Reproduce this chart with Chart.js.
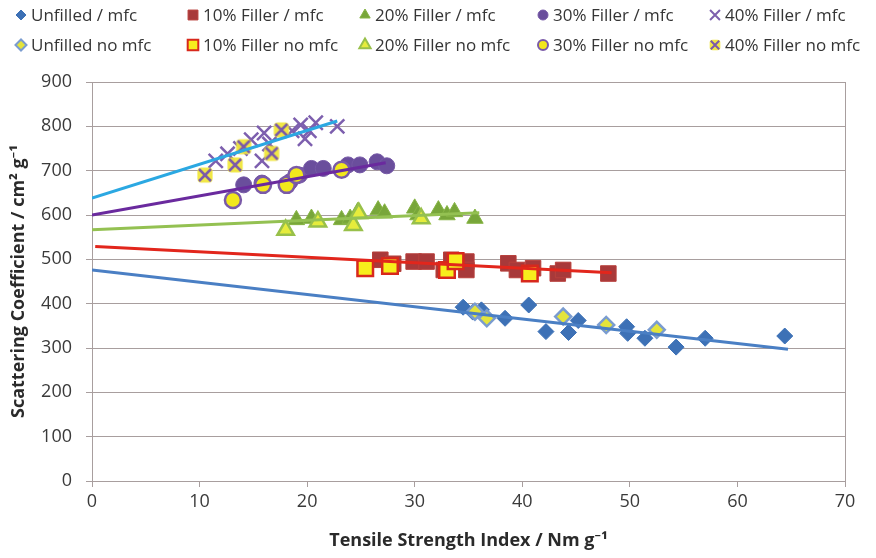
<!DOCTYPE html>
<html>
<head>
<meta charset="utf-8">
<script src="https://cdn.jsdelivr.net/npm/chart.js@4/dist/chart.umd.min.js"></script>
<style>
html, body { margin: 0; padding: 0; background: #fff; }
#wrap { width: 876px; height: 558px; }
</style>
</head>
<body>
<div id="wrap"><canvas id="scatter" width="876" height="558"></canvas></div>
<script>
"use strict";

// 測定値 [引張強さ指数, 散乱係数]
const unfilledMfc = [[34.5,392],[35.4,381],[36.2,386],[38.4,367],[40.6,397],[42.2,337],[44.3,335],[45.2,362],[49.7,348],[49.8,333],[51.4,322],[54.3,302],[57.0,322],[64.4,327]];
const unfilledNoMfc = [[35.6,382],[36.7,367],[43.8,371],[47.8,352],[52.5,341]];
const filler10Mfc = [[26.8,499],[28.0,490],[29.9,495],[31.1,495],[32.7,476],[33.4,499],[34.8,495],[34.8,476],[38.7,491],[39.5,476],[41.0,480],[43.3,468],[43.8,476],[48.0,468]];
const filler10NoMfc = [[25.4,480],[27.7,485],[33.0,476],[33.8,496],[40.7,468]];
const filler20Mfc = [[19.0,589],[20.4,592],[23.2,589],[24.0,592],[24.7,607],[26.6,611],[27.2,604],[30.0,615],[30.3,600],[32.2,611],[33.0,600],[33.7,607],[35.6,592]];
const filler20NoMfc = [[18.0,566],[21.0,585],[24.3,577],[24.8,604],[30.6,592]];
const filler30Mfc = [[14.1,668],[15.8,672],[18.4,675],[19.3,690],[20.4,705],[21.5,705],[23.8,713],[24.9,713],[26.5,720],[27.4,711]];
const filler30NoMfc = [[13.1,634],[15.9,668],[18.1,668],[19.0,690],[23.2,702]];
const filler40Mfc = [[11.5,722],[12.6,738],[13.8,750],[14.8,770],[16.0,785],[15.8,722],[16.5,760],[18.6,790],[19.4,803],[19.8,772],[20.2,790],[20.8,808],[22.8,800]];
const filler40NoMfc = [[10.5,690],[13.3,713],[14.1,754],[16.7,739],[17.6,792]];

// 近似直線の両端
const trendUnfilled = [[0,476],[64.7,297]];
const trend10 = [[0.3,529],[48.3,470]];
const trend20 = [[0,567],[36.0,605]];
const trend30 = [[0,600],[27.3,718]];
const trend40 = [[0,638],[22.8,812]];

// 軸目盛
const xTicks = [0, 10, 20, 30, 40, 50, 60, 70];
const yTicks = [0, 100, 200, 300, 400, 500, 600, 700, 800, 900];

const FONT = "'Open Sans', 'Noto Sans', sans-serif";

const toXY = arr => arr.map(p => ({ x: p[0], y: p[1] }));

// 黄色地に×印のマーカー
function yellowCross(size, line) {
    const c = document.createElement("canvas");
    c.width = size;
    c.height = size;
    const g = c.getContext("2d");
    g.fillStyle = "rgba(240,230,60,0.95)";
    const m = size * 0.12;
    g.beginPath();
    g.roundRect(m, m, size - 2 * m, size - 2 * m, size * 0.2);
    g.fill();
    g.strokeStyle = "#7b5aa8";
    g.lineWidth = line;
    const a = size * 0.2, b = size * 0.8;
    g.beginPath();
    g.moveTo(a, a); g.lineTo(b, b);
    g.moveTo(b, a); g.lineTo(a, b);
    g.stroke();
    return c;
}
const crossImg = yellowCross(20, 2.5);
const crossImgSmall = yellowCross(14, 2);

// 系列の見た目
const series = [
    { label: "Unfilled / mfc",     data: unfilledMfc,   style: "rectRot",  r: 8,   fill: "#3d71b6", border: "#3d71b6", bw: 1,   lr: 5 },
    { label: "10% Filler / mfc",   data: filler10Mfc,   style: "rect",     r: 11,  fill: "#a8393a", border: "#b8403c", bw: 1,   lr: 7 },
    { label: "20% Filler / mfc",   data: filler20Mfc,   style: "triangle", r: 9.5, fill: "#78a63a", border: "#86b444", bw: 1,   lr: 6 },
    { label: "30% Filler / mfc",   data: filler30Mfc,   style: "circle",   r: 8,   fill: "#6a4e9c", border: "#7558a6", bw: 1,   lr: 5 },
    { label: "40% Filler / mfc",   data: filler40Mfc,   style: "crossRot", r: 10,  fill: "#7d5fae", border: "#7d5fae", bw: 2.5, lr: 7 },
    { label: "Unfilled no mfc",    data: unfilledNoMfc, style: "rectRot",  r: 8,   fill: "#e4e43c", border: "#7a9cd0", bw: 2.5, lr: 5.5 },
    { label: "10% Filler no mfc",  data: filler10NoMfc, style: "rect",     r: 11,  fill: "#f7ee1c", border: "#d8281c", bw: 2.5, lr: 7.5 },
    { label: "20% Filler no mfc",  data: filler20NoMfc, style: "triangle", r: 9.5, fill: "#e6ec3c", border: "#98c04a", bw: 2.5, lr: 6.5 },
    { label: "30% Filler no mfc",  data: filler30NoMfc, style: "circle",   r: 8,   fill: "#f2e81c", border: "#7a5aa8", bw: 2.5, lr: 5 },
    { label: "40% Filler no mfc",  data: filler40NoMfc, style: crossImg,   r: 10,  fill: "#7d5fae", border: "#7d5fae", bw: 2.5, lr: 7, legendImg: crossImgSmall }
];

const trends = [
    { data: trendUnfilled, color: "#4a7fc4" },
    { data: trend10,       color: "#e2261c" },
    { data: trend20,       color: "#94c152" },
    { data: trend30,       color: "#6a2a9e" },
    { data: trend40,       color: "#2ba8e2" }
];

const datasets = [];
trends.forEach(t => {
    datasets.push({
        data: toXY(t.data),
        showLine: true,
        borderColor: t.color,
        borderWidth: 3,
        pointRadius: 0,
        order: 0
    });
});
series.forEach((s, i) => {
    datasets.push({
        label: s.label,
        data: toXY(s.data),
        pointStyle: s.style,
        pointRadius: s.r,
        pointHoverRadius: s.r,
        backgroundColor: s.fill,
        borderColor: s.border,
        pointBorderWidth: s.bw,
        showLine: false,
        order: 20 - i
    });
});

// 2段5列の凡例
const legendPlugin = {
    id: "gridLegend",
    afterDraw(chart) {
        const ctx = chart.ctx;
        const colX = [21, 193, 365, 543, 715];
        const rowY = [15, 45];
        ctx.save();
        series.forEach((s, i) => {
            const cx = colX[i % 5];
            const cy = rowY[Math.floor(i / 5)];
            ctx.fillStyle = s.fill;
            ctx.strokeStyle = s.border;
            ctx.lineWidth = s.style === "crossRot" ? 2 : Math.min(s.bw, 2);
            Chart.helpers.drawPoint(ctx, {
                pointStyle: s.legendImg || s.style,
                radius: s.lr,
                rotation: 0,
                borderWidth: ctx.lineWidth
            }, cx, cy);
            ctx.fillStyle = "#353535";
            ctx.font = "17px " + FONT;
            ctx.textBaseline = "middle";
            ctx.textAlign = "left";
            ctx.fillText(s.label, cx + 10, cy + 1);
        });
        ctx.restore();
    }
};

const gridColor = "#a89e9e";

new Chart(document.getElementById("scatter"), {
    type: "scatter",
    data: { datasets: datasets },
    options: {
        responsive: false,
        animation: false,
        layout: { padding: { top: 82, right: 31, left: 0, bottom: 0 } },
        plugins: {
            legend: { display: false },
            tooltip: { enabled: false }
        },
        scales: {
            x: {
                type: "linear",
                min: 0,
                max: 70,
                afterBuildTicks: scale => { scale.ticks = xTicks.map(v => ({ value: v })); },
                afterFit: scale => { scale.height = 77; },
                border: { display: true, color: gridColor, width: 1 },
                grid: {
                    drawOnChartArea: true,
                    color: c => (c.tick && c.tick.value === 70) ? gridColor : "rgba(0,0,0,0)",
                    tickColor: gridColor,
                    tickLength: 6
                },
                ticks: {
                    color: "#3a3a3a",
                    font: { family: FONT, size: 18 },
                    padding: 4
                },
                title: {
                    display: true,
                    text: "Tensile Strength Index / Nm g\u207B\u00B9",
                    color: "#2a2a2a",
                    font: { family: FONT, size: 18, weight: "bold" },
                    padding: { top: 0, bottom: 6 }
                }
            },
            y: {
                type: "linear",
                min: 0,
                max: 900,
                afterBuildTicks: scale => { scale.ticks = yTicks.map(v => ({ value: v })); },
                afterFit: scale => { scale.width = 92; },
                border: { display: true, color: gridColor, width: 1 },
                grid: {
                    color: gridColor,
                    tickColor: gridColor,
                    tickLength: 6
                },
                ticks: {
                    color: "#3a3a3a",
                    font: { family: FONT, size: 18 },
                    padding: 14
                },
                title: {
                    display: true,
                    text: "Scattering Coefficient / cm\u00B2 g\u207B\u00B9",
                    color: "#2a2a2a",
                    font: { family: FONT, size: 18, weight: "bold" },
                    padding: { top: 8, bottom: 0 }
                }
            }
        }
    },
    plugins: [legendPlugin]
});
</script>
</body>
</html>
